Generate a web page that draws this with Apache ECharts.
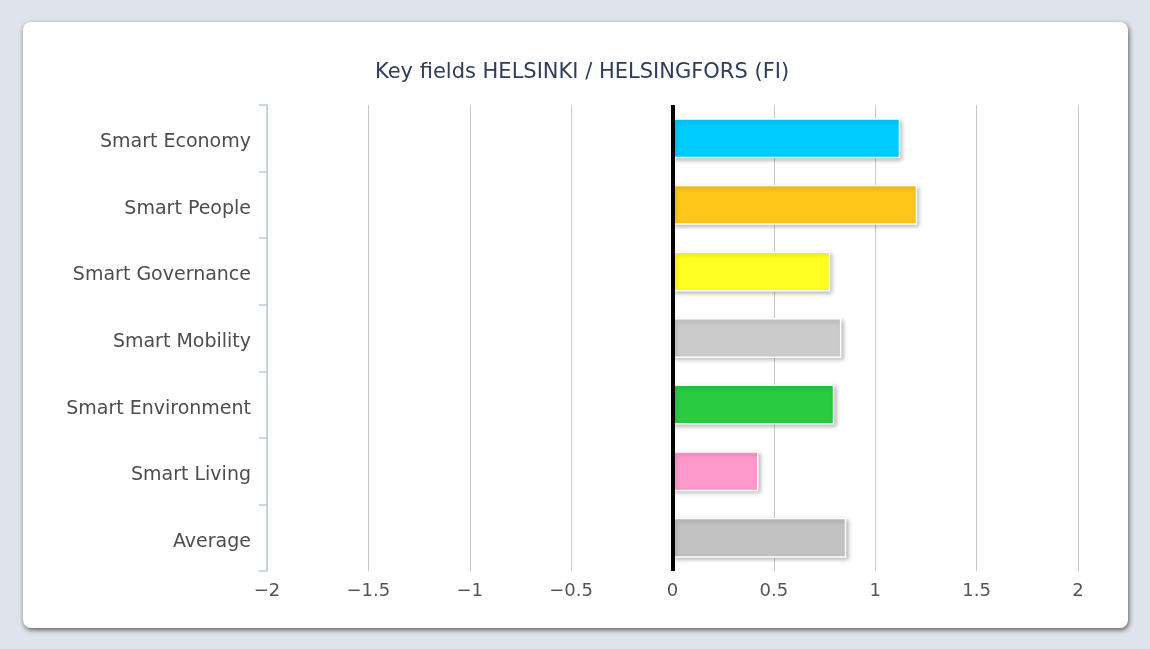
<!DOCTYPE html>
<html>
<head>
<meta charset="utf-8">
<script src="https://cdn.jsdelivr.net/npm/echarts@6/dist/echarts.min.js"></script>
<style>
  html, body { margin: 0; padding: 0; width: 1150px; height: 649px; background: #dfe3ea; overflow: hidden; }
  #card { position: absolute; left: 23px; top: 22px; width: 1105px; height: 606px; background: #fff; border-radius: 8px;
          box-shadow: 1px 2px 5px rgba(0,0,0,0.6); }
  #chart { position: absolute; left: 0; top: 0; width: 1150px; height: 649px; }
</style>
</head>
<body>
<div id="card"></div>
<div id="chart"></div>
<script>
const categories = ['Smart Economy', 'Smart People', 'Smart Governance', 'Smart Mobility', 'Smart Environment', 'Smart Living', 'Average'];
const values = [1.123, 1.207, 0.778, 0.833, 0.798, 0.424, 0.857];
const barColors = ['#00ccff', '#ffc61a', '#ffff22', '#cbcbcb', '#28cc3e', '#ff99cc', '#c2c2c2'];
const xMin = -2, xMax = 2, xStep = 0.5;
const chartTitle = 'Key fields HELSINKI / HELSINGFORS (FI)';

const chart = echarts.init(document.getElementById('chart'), null, { renderer: 'canvas' });
chart.setOption({
  backgroundColor: 'transparent',
  animation: false,
  title: {
    text: chartTitle, left: 577, textAlign: 'center', top: 57,
    textStyle: { fontFamily: 'DejaVu Sans', fontSize: 21, fontWeight: 'normal', color: '#2e3d5a' }
  },
  grid: { left: 267, right: 72, top: 105, bottom: 78, containLabel: false },
  xAxis: {
    type: 'value', min: xMin, max: xMax, interval: xStep,
    axisLine: { show: false }, axisTick: { show: false },
    splitLine: { show: true, lineStyle: { color: '#c8c8c8', width: 1 } },
    axisLabel: {
      margin: 11, color: '#555', fontFamily: 'DejaVu Sans', fontSize: 18,
      formatter: v => String(v).replace('-', '\u2212')
    }
  },
  yAxis: {
    type: 'category', data: categories, inverse: true, z: 5,
    axisLine: { show: true, onZero: false, lineStyle: { color: '#bccde2', width: 1.5 } },
    axisTick: { show: true, inside: false, alignWithLabel: false, length: 8, lineStyle: { color: '#bccde2', width: 1.5 } },
    axisLabel: {
      margin: 16, color: '#4d4d4d', fontFamily: 'DejaVu Sans', fontSize: 19,
      formatter: v => '{a|' + v + '}',
      rich: { a: { color: '#4d4d4d', fontFamily: 'DejaVu Sans', fontSize: 19, padding: [8, 0, 0, 0] } }
    },
    splitLine: { show: false }
  },
  series: [{
    type: 'bar',
    data: values.map((v, i) => ({ value: v, itemStyle: { color: barColors[i] } })),
    barWidth: 40,
    itemStyle: {
      borderColor: '#ffffff', borderWidth: 1.5,
      shadowColor: 'rgba(0,0,0,0.25)', shadowBlur: 4, shadowOffsetX: 2, shadowOffsetY: 2
    },
    markLine: {
      silent: true, symbol: 'none', label: { show: false },
      lineStyle: { color: '#000', width: 4, type: 'solid' },
      data: [{ xAxis: 0 }]
    }
  }]
});
</script>
</body>
</html>
